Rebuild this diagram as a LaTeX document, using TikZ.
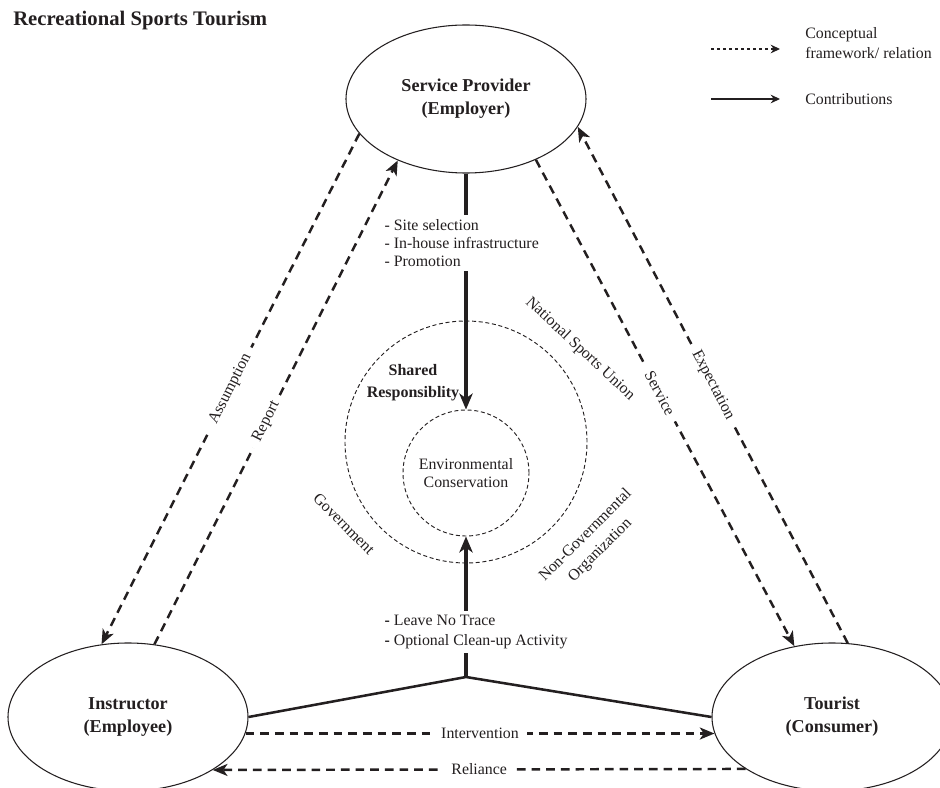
\documentclass[tikz,border=0pt]{standalone}
\usepackage{fontspec}
\setmainfont{Liberation Serif}
\usetikzlibrary{arrows.meta,shapes.geometric}
\definecolor{ink}{HTML}{231F20}
\begin{document}
\begin{tikzpicture}[x=0.75pt,y=-0.75pt,
  every node/.style={text=ink, font=\fontsize{11.9}{14.2}\selectfont},
  party/.style={ellipse, draw=ink, line width=0.8pt, minimum width=180pt, minimum height=111pt,
    inner sep=0pt, align=center, font=\bfseries\fontsize{13.6}{17.25}\selectfont},
  ring/.style={circle, draw=ink, line width=0.7pt, dash pattern=on 3pt off 2pt, inner sep=0pt},
  rel/.style={draw=ink, line width=1.85pt, dash pattern=on 6.5pt off 4.5pt, -{Stealth[length=11pt,width=9pt,inset=3pt]}},
  con/.style={draw=ink, line width=2.4pt, -{Stealth[length=12pt,width=10pt,inset=3.5pt]}},
  hubline/.style={draw=ink, line width=1.9pt},
  lab/.style={fill=white, inner xsep=6pt, inner ysep=1pt},
  legdash/.style={draw=ink, line width=0.9pt, dash pattern=on 2.5pt off 2pt, -{Stealth[length=7pt,width=6.5pt]}},
  legsolid/.style={draw=ink, line width=0.9pt, -{Stealth[length=7pt,width=6.5pt]}}
]
\useasboundingbox (0,0) rectangle (940,788);

% title
\node[anchor=base west, inner sep=0pt, font=\bfseries\fontsize{15.5}{18}\selectfont] (title) at (13,26) {Recreational Sports Tourism};

% legend
\coordinate (la1) at (711,49); \coordinate (la2) at (780,49);
\draw[legdash] (la1) -- (la2);
\coordinate (lb1) at (711,99); \coordinate (lb2) at (780,99);
\draw[legsolid] (lb1) -- (lb2);
\node[anchor=west, align=left, inner sep=0pt, font=\fontsize{11.9}{15}\selectfont] (legt1) at (805,43) {Conceptual\\framework/ relation};
\node[anchor=west, inner sep=0pt] (legt2) at (805,99) {Contributions};

% parties
\node[party] (sp) at (466,99) {Service Provider\\(Employer)};
\node[party] (ins) at (128,717) {Instructor\\(Employee)};
\node[party] (tou) at (832,717) {Tourist\\(Consumer)};

% circles
\node[ring, minimum size=181.5pt] (outer) at (466,442) {};
\node[ring, minimum size=94.5pt, align=center, font=\fontsize{11.9}{14}\selectfont] (inner) at (466,473) {Environmental\\Conservation};

% relations
\draw[rel] (sp.198) -- node[lab, sloped, pos=0.5] {Assumption} (ins.110);
\draw[rel] (ins.70) -- node[lab, sloped, pos=0.46] {Report} (sp.222);
\draw[rel] (sp.319) -- node[lab, sloped, pos=0.48] {Service} (tou.118);
\draw[rel] (tou.78) -- node[lab, sloped, pos=0.5] {Expectation} (sp.346);
\draw[rel] (ins.352) -- node[lab] {Intervention} (tou.188);
\draw[rel] (tou.211.5) -- node[lab] {Reliance} (ins.328.5);

% contributions
\coordinate (hub) at (466,677);
\draw[hubline] (ins.east) -- (hub) -- (tou.west);
\draw[con] (hub) -- (inner.south);
\draw[con] (sp.south) -- (inner.north);

\node[fill=white, anchor=west, align=left, inner xsep=1pt, inner ysep=3pt, font=\fontsize{11.9}{13.5}\selectfont] (sitelab) at (383,243) {- Site selection\\- In-house infrastructure\\- Promotion};
\node[fill=white, anchor=west, align=left, inner xsep=1pt, inner ysep=3pt, font=\fontsize{11.9}{15}\selectfont] (leavelab) at (383,632) {{\bfseries -} Leave No Trace\\{\bfseries -} Optional Clean-up Activity};

% texts
\node[align=center, inner sep=0pt, font=\bfseries\fontsize{12}{16.5}\selectfont] (shared) at (413,383) {Shared\\Responsiblity};
\node[rotate=-43, inner sep=0pt] (nsu) at (580,349) {National Sports Union};
\node[rotate=-45, inner sep=0pt] (gov) at (344,524) {Government};
\node[rotate=45, align=center, inner sep=0pt, font=\fontsize{11.9}{15.5}\selectfont] (ngo) at (593,543) {Non-Governmental\\Organization};
\end{tikzpicture}
\end{document}
